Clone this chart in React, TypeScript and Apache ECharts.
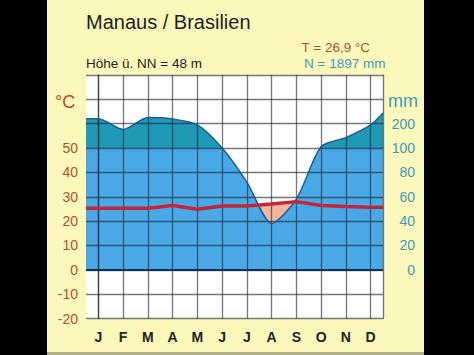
import { useEffect, useRef } from 'react';
import * as echarts from 'echarts';

const months = ['J', 'F', 'M', 'A', 'M', 'J', 'J', 'A', 'S', 'O', 'N', 'D'];
const temperature = [25.3, 25.3, 25.3, 26.4, 24.9, 26.2, 26.2, 27.0, 28.0, 26.4, 26.0, 25.7];
const precipitation = [220, 176, 225, 219, 195, 100, 72, 38, 58, 106, 143, 195];
// values where the curves meet the left / right border of the diagram
const temperatureAtEdges = [25.3, 25.7];
const precipitationAtEdges = [220, 244];
const tempTickLabels = [-20, -10, 0, 10, 20, 30, 40, 50];
const precipTickLabels = [0, 20, 40, 60, 80, 100, 200];

const FONT = "'Liberation Sans', Arial, sans-serif";

// Walter-Lieth scale: 10 °C = 20 mm up to 100 mm, above 10 °C = 100 mm
const toUnits = (p: number) => (p <= 100 ? p / 2 : 50 + (p - 100) / 10);
const fromUnits = (u: number) => (u <= 50 ? u * 2 : 100 + (u - 50) * 10);

const withEdges = (vals: number[], edges: number[]) => [
  [-0.5, edges[0]],
  ...vals.map((v, i) => [i, v]),
  [vals.length - 0.5, edges[1]],
];

export default function App() {
  const ref = useRef<HTMLDivElement>(null);
  useEffect(() => {
    if (!ref.current) return;
    const chart = echarts.init(ref.current, undefined, { renderer: 'svg' });
    const gridColor = 'rgba(25,30,45,0.6)';
    const tempData = withEdges(temperature, temperatureAtEdges);
    const precipData = withEdges(precipitation.map(toUnits), precipitationAtEdges.map(toUnits));
    const tempColor = '#b2502c';
    const precColor = '#3a9cb8';
    chart.setOption({
      animation: false,
      backgroundColor: 'transparent',
      textStyle: { fontFamily: FONT },
      grid: { left: 86, right: 91, top: 75, bottom: 36.5, show: true, backgroundColor: '#ffffff', borderWidth: 0 },
      xAxis: [
        {
          type: 'category',
          data: months,
          boundaryGap: true,
          z: 5,
          axisLine: { show: false },
          axisTick: { show: false },
          axisLabel: { color: '#222', fontSize: 14, fontWeight: 'bold', margin: 11, fontFamily: FONT },
          splitLine: { show: true, alignWithLabel: true, lineStyle: { color: gridColor, width: 1.3 } },
        },
        { type: 'value', min: -0.5, max: months.length - 0.5, show: false },
      ],
      yAxis: [
        {
          type: 'value',
          min: -20,
          max: 80,
          interval: 10,
          position: 'left',
          z: 5,
          axisLine: { show: true, lineStyle: { color: gridColor, width: 1.3 } },
          axisTick: { show: false },
          axisLabel: {
            color: tempColor,
            fontSize: 14,
            margin: 8,
            fontFamily: FONT,
            formatter: (v: number) => (tempTickLabels.includes(v) ? String(v) : ''),
          },
          splitLine: { show: true, lineStyle: { color: gridColor, width: 1.3 } },
        },
        {
          type: 'value',
          min: -20,
          max: 80,
          interval: 10,
          position: 'right',
          z: 5,
          axisLine: { show: true, lineStyle: { color: gridColor, width: 1.3 } },
          axisTick: { show: false },
          axisLabel: {
            color: precColor,
            fontSize: 14,
            margin: 32,
            align: 'right',
            fontFamily: FONT,
            formatter: (v: number) => (v >= 0 && precipTickLabels.includes(fromUnits(v)) ? String(fromUnits(v)) : ''),
          },
          splitLine: { show: false },
        },
      ],
      visualMap: {
        type: 'piecewise',
        show: false,
        seriesIndex: 1,
        dimension: 1,
        pieces: [
          { gte: -100, lte: 50, color: '#4ba8e6' },
          { gt: 50, lte: 1000, color: '#1f9ab6' },
        ],
      },
      series: [
        {
          type: 'line',
          xAxisIndex: 1,
          yAxisIndex: 0,
          data: tempData,
          showSymbol: false,
          silent: true,
          lineStyle: { width: 0 },
          areaStyle: { color: '#f5b49c', opacity: 1, origin: 0 },
          z: 1,
        },
        {
          type: 'line',
          xAxisIndex: 1,
          yAxisIndex: 0,
          data: precipData,
          smooth: 0.25,
          showSymbol: false,
          silent: true,
          lineStyle: { width: 0 },
          areaStyle: { opacity: 1, origin: 0 },
          z: 2,
        },
        {
          type: 'line',
          xAxisIndex: 1,
          yAxisIndex: 0,
          data: precipData,
          smooth: 0.25,
          showSymbol: false,
          silent: true,
          lineStyle: { color: '#1d5f8e', width: 1.5 },
          z: 8,
          markLine: {
            silent: true,
            symbol: 'none',
            label: { show: false },
            lineStyle: { color: '#13304f', width: 2, type: 'solid' },
            data: [{ yAxis: 0 }],
          },
        },
        {
          type: 'line',
          xAxisIndex: 1,
          yAxisIndex: 0,
          data: tempData,
          showSymbol: false,
          silent: true,
          lineStyle: { color: '#c0283a', width: 3.5 },
          z: 9,
        },
      ],
      graphic: [
        { type: 'text', x: 86, y: 21.5, style: { text: 'Manaus / Brasilien', fill: '#1e1e1e', fontSize: 20, fontFamily: FONT, textVerticalAlign: 'middle' } },
        { type: 'text', x: 86, y: 63, style: { text: 'Höhe ü. NN = 48 m', fill: '#1e1e1e', fontSize: 13.5, fontFamily: FONT, textVerticalAlign: 'middle' } },
        { type: 'text', x: 301.5, y: 47.5, style: { text: 'T = 26,9 °C', fill: tempColor, fontSize: 13.5, fontFamily: FONT, textVerticalAlign: 'middle' } },
        { type: 'text', x: 304, y: 63.5, style: { text: 'N = 1897 mm', fill: precColor, fontSize: 13.5, fontFamily: FONT, textVerticalAlign: 'middle' } },
        { type: 'text', x: 55, y: 102, style: { text: '°C', fill: tempColor, fontSize: 18, fontFamily: FONT, textVerticalAlign: 'middle' } },
        { type: 'text', x: 388, y: 101, style: { text: 'mm', fill: precColor, fontSize: 18, fontFamily: FONT, textVerticalAlign: 'middle' } },
      ],
    });
    return () => chart.dispose();
  }, []);

  return (
    <div style={{ position: 'fixed', left: 0, top: 0, width: 474, height: 355, background: '#000', overflow: 'hidden' }}>
      <div
        style={{
          position: 'absolute',
          left: 47,
          top: 0,
          width: 377,
          height: 352,
          background: '#fcf8bb',
          borderBottom: '3px solid #b2ae86',
        }}
      />
      <div ref={ref} style={{ position: 'absolute', left: 0, top: 0, width: 474, height: 355 }} />
    </div>
  );
}
